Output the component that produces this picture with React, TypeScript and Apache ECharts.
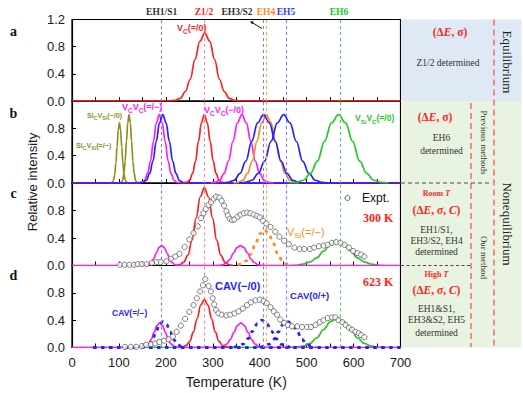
import React, { useEffect, useRef } from 'react';
import * as echarts from 'echarts';

// ---------- data (temperature K, relative intensity) ----------
const ehPositions = [191, 282, 407, 414, 456, 571];
const ehColors = ['#7b7bff', '#ff8c8c', '#7b7bff', '#ffa64d', '#7b7bff', '#5cc85c'];

// panel a
const redA = [[0,0],[205,0],[220,0.01],[231,0.04],[241.5,0.14],[252,0.32],[262,0.61],[272.5,0.88],[283,1.0],[293.5,0.88],[304,0.61],[314,0.32],[324.5,0.14],[335,0.04],[346,0.01],[360,0],[700,0]];

// panel b
const oliveB1 = [[80,0],[86,0.01],[88.5,0.04],[91,0.12],[93.5,0.29],[96,0.53],[98.5,0.78],[101,0.88],[103.5,0.78],[106,0.53],[108.5,0.29],[111,0.12],[113.5,0.04],[116,0.01],[121,0]];
const oliveB2 = [[99,0],[104.9,0.01],[107.8,0.04],[110.5,0.14],[113.3,0.32],[116,0.61],[118.8,0.88],[121.5,1.0],[124.3,0.88],[127,0.61],[129.8,0.32],[132.5,0.14],[135.3,0.04],[138.1,0.01],[144,0]];
const magentaB1 = [[0,0],[140,0],[148.5,0.01],[154.8,0.04],[161,0.14],[167.3,0.32],[173.5,0.61],[179.8,0.88],[186,1.0],[192.3,0.88],[198.5,0.61],[204.8,0.32],[211,0.14],[217.3,0.04],[223.5,0.01],[232,0],[700,0]];
const blueB1 = [[0,0],[142,0],[151.5,0.01],[158.5,0.04],[165.5,0.14],[172.5,0.32],[179.5,0.61],[186.5,0.88],[193.5,1.0],[200.5,0.88],[207.5,0.61],[214.5,0.32],[221.5,0.14],[228.5,0.04],[235.5,0.01],[245,0],[700,0]];
const redB = [[236,0],[244.5,0.01],[250.8,0.04],[257,0.14],[263.3,0.32],[269.5,0.61],[275.8,0.88],[282,1.0],[288.3,0.88],[294.5,0.61],[300.8,0.32],[307,0.14],[313.3,0.04],[319.5,0.01],[328,0]];
const magentaB2 = [[295,0],[305,0.01],[314.5,0.04],[324,0.14],[333.5,0.32],[343,0.61],[352.5,0.88],[362,1.0],[371.5,0.88],[381,0.61],[390.5,0.32],[400,0.14],[409.5,0.04],[419,0.01],[430,0]];
const orangeB = [[344,0],[354,0.01],[364,0.04],[374,0.14],[384,0.32],[394,0.61],[404,0.88],[414,1.0],[424,0.88],[434,0.61],[444,0.32],[454,0.14],[464,0.04],[474,0.01],[484,0]];
const blueB3 = [[320,0],[333,0.01],[345.5,0.04],[358,0.14],[370.5,0.32],[383,0.61],[395.5,0.88],[408,1.0],[420.5,0.88],[433,0.61],[445.5,0.32],[458,0.14],[470.5,0.04],[483,0.01],[495,0]];
const blueB5 = [[356,0],[370,0.01],[383.5,0.04],[397,0.14],[410.5,0.32],[424,0.61],[437.5,0.88],[451,1.0],[464.5,0.88],[478,0.61],[491.5,0.32],[505,0.14],[518.5,0.04],[532,0.01],[545,0]];
const greenB = [[462,0],[478,0.01],[493,0.04],[508,0.14],[523,0.32],[538,0.61],[553,0.88],[568,1.0],[583,0.88],[598,0.61],[613,0.32],[628,0.14],[643,0.04],[658,0.01],[675,0]];

// panel c (300 K)
const magentaC = [[0,0],[150,0],[156.5,0.003],[162.3,0.01],[168,0.04],[173.8,0.09],[179.5,0.18],[185.3,0.26],[191,0.29],[196.8,0.26],[202.5,0.18],[208.3,0.09],[214,0.04],[219.8,0.01],[225.5,0.003],[232,0],[306,0],[314,0.003],[321.5,0.01],[329,0.04],[336.5,0.09],[344,0.18],[351.5,0.26],[359,0.29],[366.5,0.26],[374,0.18],[381.5,0.09],[389,0.04],[396.5,0.01],[404,0.003],[412,0],[700,0]];
const redC = [[220,0],[229.5,0.01],[238.3,0.05],[247,0.15],[255.8,0.37],[264.5,0.69],[273.3,1.0],[282,1.13],[290.8,1.0],[299.5,0.69],[308.3,0.37],[317,0.15],[325.8,0.05],[334.5,0.01],[344,0]];
const orangeC = [[353,0.01],[362.5,0.02],[372,0.07],[381.5,0.17],[391,0.32],[400.5,0.46],[410,0.52],[419.5,0.46],[429,0.32],[438.5,0.17],[448,0.07],[457.5,0.02],[467,0.01]];
const greenC = [[465,0],[478,0.004],[492.5,0.02],[507,0.05],[521.5,0.11],[536,0.21],[550.5,0.31],[565,0.35],[579.5,0.31],[594,0.21],[608.5,0.11],[623,0.05],[637.5,0.02],[652,0.004],[665,0]];
const exptC = [[102,0.01],[112,0.01],[122,0.01],[132,0.01],[140,0.02],[149,0.02],[159,0.02],[170,0.04],[181,0.05],[189,0.05],[201,0.06],[211,0.10],[220,0.13],[229,0.17],[240,0.27],[250,0.38],[259,0.47],[268,0.57],[275,0.69],[280,0.76],[285,0.82],[291,0.88],[296,0.92],[302,0.97],[307,1.0],[314,0.99],[319,0.94],[324,0.87],[329,0.79],[332,0.73],[336,0.68],[341,0.66],[346,0.67],[353,0.71],[359,0.74],[366,0.76],[373,0.77],[380,0.76],[387,0.74],[394,0.72],[400,0.70],[407,0.65],[414,0.61],[423,0.56],[433,0.49],[442,0.42],[452,0.36],[462,0.31],[474,0.26],[485,0.24],[495,0.24],[507,0.24],[516,0.26],[526,0.28],[536,0.29],[545,0.30],[554,0.33],[563,0.34],[572,0.33],[581,0.30],[590,0.26],[599,0.21],[608,0.18],[616,0.16],[623,0.13]];

// panel d (623 K)
const greenD = [[0,0],[465,0],[478,0.005],[492.5,0.02],[507,0.06],[521.5,0.14],[536,0.26],[550.5,0.38],[565,0.43],[579.5,0.38],[594,0.26],[608.5,0.14],[623,0.06],[637.5,0.02],[652,0.005],[665,0],[700,0]];
const magentaD = [[0,0],[145,0],[151,0.004],[157,0.02],[163,0.05],[169,0.12],[175,0.22],[181,0.32],[187,0.36],[193,0.32],[199,0.22],[205,0.12],[211,0.05],[217,0.02],[223,0.004],[230,0],[308,0],[315,0.004],[322.5,0.02],[330,0.05],[337.5,0.12],[345,0.22],[352.5,0.32],[360,0.36],[367.5,0.32],[375,0.22],[382.5,0.12],[390,0.05],[397.5,0.02],[405,0.004],[412,0],[700,0]];
const redD = [[226,0],[235.5,0.01],[243.3,0.03],[251,0.09],[258.8,0.23],[266.5,0.42],[274.3,0.62],[282,0.70],[289.8,0.62],[297.5,0.42],[305.3,0.23],[313,0.09],[320.8,0.03],[328.5,0.01],[338,0]];
const cavBaseD = [[45,0],[700,0]];
const cav1D = [[149,0.004],[156.5,0.02],[164,0.05],[171.5,0.12],[179,0.23],[186.5,0.34],[194,0.38],[201.5,0.34],[209,0.23],[216.5,0.12],[224,0.05],[231.5,0.02],[239,0.004]];
const cav2D = [[345,0.004],[355,0.02],[365,0.05],[375,0.13],[385,0.24],[395,0.35],[405,0.40],[415,0.35],[425,0.24],[435,0.13],[445,0.05],[455,0.02],[465,0.004]];
const cav3D = [[400,0.004],[410,0.02],[420,0.05],[430,0.12],[440,0.23],[450,0.34],[460,0.38],[470,0.34],[480,0.23],[490,0.12],[500,0.05],[510,0.02],[520,0.004]];
const exptD = [[113,0.01],[125,0.01],[137,0.01],[149,0.02],[158,0.04],[168,0.05],[177,0.06],[186,0.08],[196,0.10],[206,0.12],[215,0.16],[223,0.23],[232,0.32],[241,0.42],[250,0.52],[259,0.62],[266,0.72],[273,0.82],[279,0.91],[284,1.0],[291,0.90],[296,0.82],[300,0.72],[303,0.63],[307,0.55],[312,0.50],[319,0.48],[329,0.47],[337,0.48],[346,0.50],[355,0.53],[364,0.57],[373,0.62],[381,0.66],[391,0.69],[400,0.70],[408,0.68],[415,0.65],[423,0.59],[430,0.53],[437,0.48],[444,0.41],[452,0.36],[460,0.33],[469,0.31],[480,0.31],[490,0.30],[501,0.30],[509,0.30],[519,0.33],[528,0.37],[536,0.40],[545,0.43],[554,0.44],[561,0.44],[568,0.40],[576,0.37],[583,0.33],[590,0.29],[597,0.26],[604,0.23],[611,0.21],[616,0.18],[623,0.15]];

// ---------- styling ----------
const RED = '#ff1f1f';
const MAG = '#ff1aff';
const BLUE = '#2323ff';
const ORANGE = '#ff8c1a';
const GREEN = '#22c922';
const OLIVE = '#8f8f1f';
const SANS = '"Liberation Sans", Arial, sans-serif';
const SERIF = '"Liberation Serif", "Times New Roman", serif';

const gridTops = [19.5, 101, 183, 265.5];
const gridHeights = [81.5, 82, 82.5, 82];

function curve(data: number[][], g: number, color: string, extra: any = {}) {
  return {
    type: 'line', xAxisIndex: g, yAxisIndex: g, data, smooth: 0.4, smoothMonotone: 'x',
    showSymbol: false, symbol: 'none', silent: true, z: 3,
    lineStyle: { color, width: 1.7, ...(extra.lineStyle || {}) },
    itemStyle: { color },
  };
}
function dashed(data: number[][], g: number, color: string) {
  return curve(data, g, color, { lineStyle: { width: 2.8, type: [3.5, 4.5], cap: 'butt' } });
}
function expt(data: number[][], g: number) {
  return {
    type: 'scatter', xAxisIndex: g, yAxisIndex: g, data, symbol: 'circle', symbolSize: 5.2, silent: true, z: 5,
    itemStyle: { color: '#ffffff', borderColor: '#5e5e5e', borderWidth: 1 },
  };
}
function ehMarkers(g: number) {
  return {
    type: 'line', xAxisIndex: g, yAxisIndex: g, data: [[0, 0]], showSymbol: false, symbol: 'none', silent: true, z: 2,
    lineStyle: { width: 0, opacity: 0 },
    markLine: {
      symbol: ['none', 'none'], silent: true, label: { show: false }, animation: false,
      data: ehPositions.map((x, i) => ({ xAxis: x, lineStyle: { color: ehColors[i], type: [3, 3], width: 1.1 } })),
    },
  };
}

function sub(x: number, y: number, tokens: Array<[string, string]>, color: string, size: number, weight = 'bold', family = SANS, align = 'left') {
  const text = tokens.map(([t, k]) => `{${k}|${t}}`).join('');
  return {
    type: 'text', x, y, z: 60, silent: true,
    style: {
      text, align, verticalAlign: 'middle', textAlign: align, textVerticalAlign: 'middle', fill: color,
      fontSize: size, fontWeight: weight, fontFamily: family,
      rich: {
        n: { fontSize: size, fontWeight: weight, fontFamily: family, fill: color, lineHeight: size + 4 },
        s: { fontSize: size * 0.72, fontWeight: weight, fontFamily: family, fill: color, verticalAlign: 'bottom' },
        i: { fontSize: size, fontWeight: weight, fontFamily: family, fill: color, fontStyle: 'italic', lineHeight: size + 4 },
      },
    },
  };
}
function txt(x: number, y: number, text: string, color: string, size: number, weight = 'normal', family = SERIF, align = 'center', rotation = 0) {
  return {
    type: 'text', x, y, rotation, z: 60, silent: true,
    style: { text, fill: color, fontSize: size, fontWeight: weight, fontFamily: family, align, verticalAlign: 'middle', textAlign: align, textVerticalAlign: 'middle' },
  };
}
function dline(x1: number, y1: number, x2: number, y2: number, color: string, w: number, dash: number[]) {
  return { type: 'line', z: 40, silent: true, shape: { x1, y1, x2, y2 }, style: { stroke: color, lineWidth: w, lineDash: dash } };
}

export default function App() {
  const ref = useRef<HTMLDivElement>(null);
  useEffect(() => {
    if (!ref.current) return;
    const chart = echarts.init(ref.current, undefined, { renderer: 'svg' });
    const grids = gridTops.map((t, i) => ({
      left: 72, top: t, width: 328.5, height: gridHeights[i], show: true, borderColor: '#000', borderWidth: 1.2,
      backgroundColor: 'transparent',
    }));
    const xAxis = [0, 1, 2, 3].map((i) => ({
      type: 'value', gridIndex: i, min: 0, max: 700, interval: 100,
      axisLine: { show: true, onZero: false, lineStyle: { color: '#000', width: 1.2 } },
      axisTick: { show: true, inside: true, length: 4, lineStyle: { color: '#000', width: 1 } },
      minorTick: { show: true, splitNumber: 2, length: 4, lineStyle: { color: '#000', width: 1 } },
      splitLine: { show: false }, minorSplitLine: { show: false },
      axisLabel: { show: i === 3, fontSize: 13, color: '#1a1a1a', margin: 8, fontFamily: SANS },
      name: i === 3 ? 'Temperature (K)' : '', nameLocation: 'middle', nameGap: 27,
      nameTextStyle: { fontSize: 14, color: '#1a1a1a', fontFamily: SANS },
    }));
    const yAxis = [0, 1, 2, 3].map((i) => ({
      type: 'value', gridIndex: i, min: 0, max: 1.2, interval: 0.4,
      axisLine: { show: true, onZero: false, lineStyle: { color: '#000', width: 1.2 } },
      axisTick: { show: true, inside: true, length: 4, lineStyle: { color: '#000', width: 1 } },
      splitLine: { show: false },
      axisLabel: {
        fontSize: 13, color: '#1a1a1a', margin: 7, fontFamily: SANS, showMaxLabel: i === 0,
        formatter: (v: number) => v.toFixed(1),
      },
    }));
    const series: any[] = [
      ehMarkers(0), ehMarkers(1), ehMarkers(2), ehMarkers(3),
      curve(redA, 0, RED),
      curve(oliveB1, 1, OLIVE), curve(oliveB2, 1, OLIVE),
      curve(magentaB1, 1, MAG), curve(blueB1, 1, BLUE), curve(redB, 1, RED),
      curve(magentaB2, 1, MAG), curve(orangeB, 1, ORANGE), curve(blueB3, 1, BLUE), curve(blueB5, 1, BLUE),
      curve(greenB, 1, GREEN),
      curve(redC, 2, RED), curve(greenC, 2, GREEN), curve(magentaC, 2, MAG), dashed(orangeC, 2, ORANGE), expt(exptC, 2),
      curve(greenD, 3, GREEN), curve(redD, 3, RED), curve(magentaD, 3, MAG),
      dashed(cavBaseD, 3, BLUE), dashed(cav1D, 3, BLUE), dashed(cav2D, 3, BLUE), dashed(cav3D, 3, BLUE), expt(exptD, 3),
    ];

    const bold = 'bold';
    const graphic: any[] = [
      // right-hand panel backgrounds
      { type: 'rect', z: 0, silent: true, shape: { x: 401, y: 19.5, width: 120.5, height: 81.5 }, style: { fill: '#dfe9f6' } },
      { type: 'rect', z: 0, silent: true, shape: { x: 401, y: 101, width: 120.5, height: 246.5 }, style: { fill: '#e8f3e1' } },
      dline(471, 103, 471, 347, '#ff5c5c', 1.4, [6, 4]),
      dline(494, 19.5, 494, 347, '#ff5c5c', 1.4, [6, 4]),
      dline(401, 183, 492, 183, '#4a4a4a', 1.2, [4, 3]),
      dline(401, 265.5, 471, 265.5, '#4a4a4a', 1.2, [3, 2.5]),
      // top labels
      txt(161.7, 12, 'EH1/S1', '#333333', 9.5, bold),
      txt(204, 12, 'Z1/2', RED, 9.5, bold),
      txt(237, 12, 'EH3/S2', '#333333', 9.5, bold),
      txt(266, 12, 'EH4', ORANGE, 9.5, bold),
      txt(286, 12, 'EH5', '#3a3aff', 9.5, bold),
      txt(339, 12, 'EH6', GREEN, 9.5, bold),
      dline(252.5, 22.8, 262, 28.5, '#111', 1, []),
      { type: 'polygon', z: 60, silent: true, shape: { points: [[250, 21.3], [253.9, 21.4], [252.1, 24.5]] }, style: { fill: '#111' } },
      // panel letters and axis title
      txt(13.5, 31.5, 'a', '#111', 14, bold),
      txt(13.5, 113, 'b', '#111', 14, bold),
      txt(13.5, 193, 'c', '#111', 14, bold),
      txt(13.5, 275, 'd', '#111', 14, bold),
      txt(32, 182, 'Relative intensity', '#1a1a1a', 13, 'normal', SANS, 'center', Math.PI / 2),
      // in-plot labels
      sub(177, 28, [['V', 'n'], ['C', 's'], ['(=/0)', 'n']], RED, 9),
      sub(87, 115, [['Si', 'n'], ['C', 's'], ['V', 'n'], ['Si', 's'], ['(−/0)', 'n']], OLIVE, 7.2),
      sub(76, 145, [['Si', 'n'], ['C', 's'], ['V', 'n'], ['Si', 's'], ['(=/−)', 'n']], OLIVE, 7.2),
      sub(122, 107, [['V', 'n'], ['C', 's'], ['V', 'n'], ['C', 's'], ['(=/−)', 'n']], MAG, 9),
      sub(204, 110, [['V', 'n'], ['C', 's'], ['V', 'n'], ['C', 's'], ['(−/0)', 'n']], MAG, 9),
      sub(355, 118, [['V', 'n'], ['Si', 's'], ['V', 'n'], ['C', 's'], ['(=/0)', 'n']], GREEN, 8.5),
      sub(287, 232, [['V', 'n'], ['Si', 's'], ['(=/−)', 'n']], ORANGE, 11, 'normal'),
      { type: 'circle', z: 60, silent: true, shape: { cx: 347.5, cy: 198, r: 2.5 }, style: { fill: '#fff', stroke: '#5e5e5e', lineWidth: 1 } },
      txt(362, 198, 'Expt.', '#111', 12, 'normal', SANS, 'left'),
      txt(363, 218, '300 K', RED, 12, bold, SERIF, 'left'),
      txt(363, 282, '623 K', RED, 12, bold, SERIF, 'left'),
      txt(112, 313, 'CAV(=/−)', BLUE, 8.5, bold, SANS, 'left'),
      txt(215, 286, 'CAV(−/0)', BLUE, 11, bold, SANS, 'left'),
      txt(290, 295, 'CAV(0/+)', BLUE, 9.5, bold, SANS, 'left'),
      // right-hand annotations
      sub(450, 32, [['(Δ', 'n'], ['E', 'i'], [', σ)', 'n']], RED, 11.5, bold, SERIF, 'center'),
      txt(448, 63, 'Z1/2 determined', '#333', 9.5),
      sub(435, 117, [['(Δ', 'n'], ['E', 'i'], [', σ)', 'n']], RED, 11.5, bold, SERIF, 'center'),
      txt(441.5, 138, 'EH6', '#333', 9.5),
      txt(441.5, 151, 'determined', '#333', 9.5),
      sub(436.5, 193.5, [['Room ', 'n'], ['T', 'i']], RED, 8, bold, SERIF, 'center'),
      sub(436.5, 209.5, [['(Δ', 'n'], ['E', 'i'], [', ', 'n'], ['σ', 'i'], [', ', 'n'], ['C', 'i'], [')', 'n']], RED, 11.5, bold, SERIF, 'center'),
      txt(436.5, 230, 'EH1/S1,', '#333', 9.5),
      txt(436.5, 241, 'EH3/S2, EH4', '#333', 9.5),
      txt(436.5, 251.5, 'determined', '#333', 9.5),
      sub(436.5, 274.5, [['High ', 'n'], ['T', 'i']], RED, 8, bold, SERIF, 'center'),
      sub(436.5, 289.5, [['(Δ', 'n'], ['E', 'i'], [', ', 'n'], ['σ', 'i'], [', ', 'n'], ['C', 'i'], [')', 'n']], RED, 11.5, bold, SERIF, 'center'),
      txt(436.5, 308.5, 'EH1&S1,', '#333', 9.5),
      txt(436.5, 319.5, 'EH3&S2, EH5', '#333', 9.5),
      txt(436.5, 332.5, 'determined', '#333', 9.5),
      txt(507, 62, 'Equilibrium', '#222', 13, 'normal', SERIF, 'center', -Math.PI / 2),
      txt(483.5, 142.5, 'Previous methods', '#333', 9, 'normal', SERIF, 'center', -Math.PI / 2),
      txt(483.5, 257.5, 'Our method', '#333', 9, 'normal', SERIF, 'center', -Math.PI / 2),
      txt(507, 224, 'Nonequilibrium', '#222', 13, 'normal', SERIF, 'center', -Math.PI / 2),
    ];

    chart.setOption({
      animation: false,
      backgroundColor: '#ffffff',
      grid: grids,
      xAxis,
      yAxis,
      series,
      graphic,
    } as any);
    return () => chart.dispose();
  }, []);
  return <div ref={ref} style={{ position: 'fixed', left: 0, top: 0, width: 523, height: 393, background: '#fff' }} />;
}
